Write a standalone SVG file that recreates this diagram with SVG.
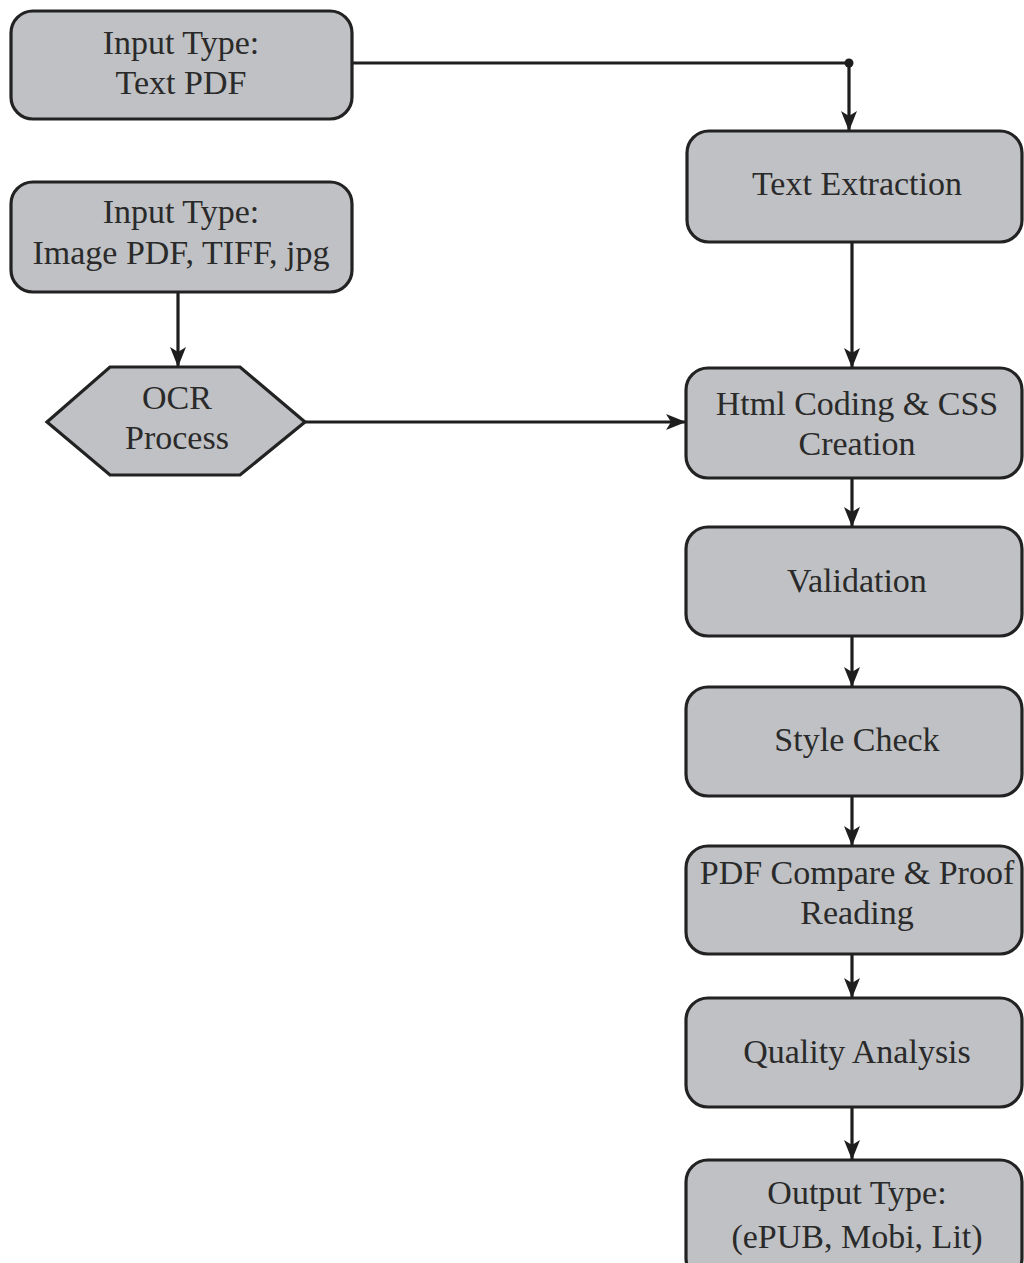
<svg xmlns="http://www.w3.org/2000/svg" width="1024" height="1263" viewBox="0 0 1024 1263">
<defs>
<style>
.node rect, .node polygon { fill: #bfc1c4; stroke: #222; stroke-width: 3.2; }
.node text { font-family: "Liberation Serif", "Times New Roman", serif; font-size: 34px; fill: #2a2a2a; text-anchor: middle; }
.conn { stroke: #1e1e1e; stroke-width: 3.2; fill: none; }
</style>
<marker id="arr" viewBox="0 0 20 16" markerWidth="20" markerHeight="16" refX="19" refY="8" orient="auto" markerUnits="userSpaceOnUse">
<path d="M0,0 L20,8 L0,16 L5,8 Z" fill="#1e1e1e"/>
</marker>
</defs>
<rect width="1024" height="1263" fill="#ffffff"/>
<g id="connectors">
<path class="conn" d="M352,63 H849 V130" marker-end="url(#arr)"/>
<circle cx="849" cy="63" r="4.5" fill="#1e1e1e"/>
<path class="conn" d="M178,292 V366" marker-end="url(#arr)"/>
<path class="conn" d="M305,422 H685" marker-end="url(#arr)"/>
<path class="conn" d="M852,242 V367" marker-end="url(#arr)"/>
<path class="conn" d="M852,478 V526" marker-end="url(#arr)"/>
<path class="conn" d="M852,636 V686" marker-end="url(#arr)"/>
<path class="conn" d="M852,796 V845" marker-end="url(#arr)"/>
<path class="conn" d="M852,954 V997" marker-end="url(#arr)"/>
<path class="conn" d="M852,1107 V1159" marker-end="url(#arr)"/>
</g>
<g id="input-text-pdf" class="node">
<rect x="11" y="11" width="341" height="108" rx="22"/>
<text x="181" y="54">Input Type:</text>
<text x="181" y="94">Text PDF</text>
</g>
<g id="input-image" class="node">
<rect x="11" y="182" width="341" height="110" rx="22"/>
<text x="181" y="223">Input Type:</text>
<text x="181" y="264">Image PDF, TIFF, jpg</text>
</g>
<g id="ocr" class="node">
<polygon points="47,422 110,367 240,367 305,422 240,475 110,475"/>
<text x="177" y="409">OCR</text>
<text x="177" y="449">Process</text>
</g>
<g id="text-extraction" class="node">
<rect x="687" y="131" width="335" height="111" rx="22"/>
<text x="857" y="195">Text Extraction</text>
</g>
<g id="html-coding" class="node">
<rect x="686" y="368" width="336" height="110" rx="22"/>
<text x="857" y="415">Html Coding &amp; CSS</text>
<text x="857" y="455">Creation</text>
</g>
<g id="validation" class="node">
<rect x="686" y="527" width="336" height="109" rx="22"/>
<text x="857" y="592">Validation</text>
</g>
<g id="style-check" class="node">
<rect x="686" y="687" width="336" height="109" rx="22"/>
<text x="857" y="751">Style Check</text>
</g>
<g id="pdf-compare" class="node">
<rect x="686" y="846" width="336" height="108" rx="22"/>
<text x="857" y="884">PDF Compare &amp; Proof</text>
<text x="857" y="924">Reading</text>
</g>
<g id="quality" class="node">
<rect x="686" y="998" width="336" height="109" rx="22"/>
<text x="857" y="1063">Quality Analysis</text>
</g>
<g id="output" class="node">
<rect x="686" y="1160" width="336" height="120" rx="22"/>
<text x="857" y="1204">Output Type:</text>
<text x="857" y="1248">(ePUB, Mobi, Lit)</text>
</g>
</svg>
